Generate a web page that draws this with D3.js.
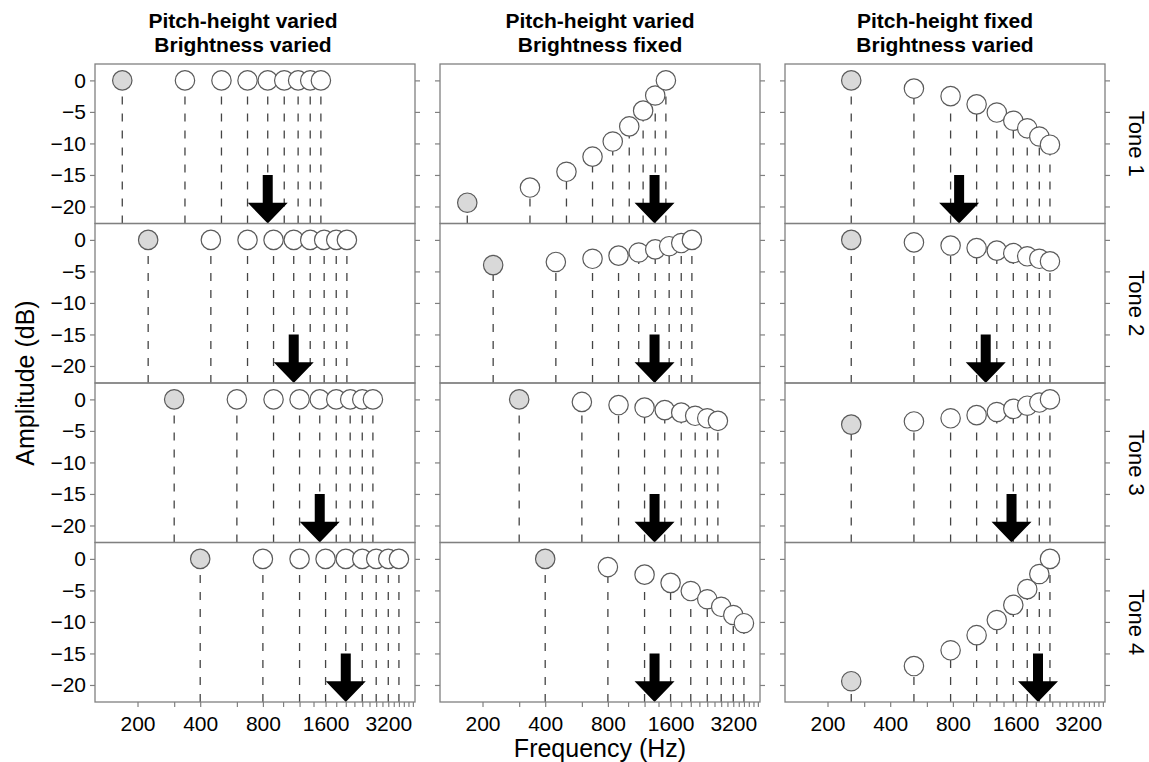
<!DOCTYPE html>
<html>
<head>
<meta charset="utf-8">
<script src="https://cdn.jsdelivr.net/npm/d3@7"></script>
<style>
body { margin: 0; background: #fff; }
svg { font-family: "Liberation Sans", Arial, Helvetica, sans-serif; }
.axis path.domain { display: none; }
.axis line { stroke: #808080; stroke-width: 1.2; }
.axis text { font-size: 21px; fill: #000; }
</style>
</head>
<body>
<svg id="chart"></svg>
<script>
// column titles and row labels
var columnTitles = [
	["Pitch-height varied", "Brightness varied"],
	["Pitch-height varied", "Brightness fixed"],
	["Pitch-height fixed", "Brightness varied"]
];
var toneLabels = ["Tone 1", "Tone 2", "Tone 3", "Tone 4"];

// harmonic frequencies (Hz) per tone
var freqVaried = [
	[169, 338, 506, 675, 844, 1013, 1181, 1350, 1519],
	[225, 450, 675, 900, 1125, 1350, 1575, 1800, 2025],
	[300, 600, 900, 1200, 1500, 1800, 2100, 2400, 2700],
	[400, 800, 1200, 1600, 2000, 2400, 2800, 3200, 3600]
];
var freqFixed = [260, 520, 780, 1040, 1300, 1560, 1820, 2080, 2340];

// amplitudes (dB) per column, per tone
var ampCol1 = [
	[0, 0, 0, 0, 0, 0, 0, 0, 0],
	[0, 0, 0, 0, 0, 0, 0, 0, 0],
	[0, 0, 0, 0, 0, 0, 0, 0, 0],
	[0, 0, 0, 0, 0, 0, 0, 0, 0]
];
var ampCol2 = [
	[-19.4, -17.0, -14.5, -12.1, -9.7, -7.3, -4.8, -2.4, 0],
	[-4.0, -3.5, -3.0, -2.5, -2.0, -1.5, -1.0, -0.5, 0],
	[0, -0.4, -0.9, -1.3, -1.7, -2.1, -2.6, -3.0, -3.4],
	[0, -1.3, -2.5, -3.8, -5.1, -6.4, -7.6, -8.9, -10.2]
];
var ampCol3 = [
	[0, -1.3, -2.5, -3.8, -5.1, -6.4, -7.6, -8.9, -10.2],
	[0, -0.4, -0.9, -1.3, -1.7, -2.1, -2.6, -3.0, -3.4],
	[-4.0, -3.5, -3.0, -2.5, -2.0, -1.5, -1.0, -0.5, 0],
	[-19.4, -17.0, -14.5, -12.1, -9.7, -7.3, -4.8, -2.4, 0]
];

// spectral centroid arrows (Hz)
var centroidCol1 = [844, 1125, 1500, 2000];
var centroidCol2 = [1340, 1340, 1340, 1340];
var centroidCol3 = [857, 1150, 1530, 2050];

var yTicks = [0, -5, -10, -15, -20];
var xTicks = [200, 300, 400, 600, 800, 1000, 1200, 1400, 1600, 1800, 2000, 2200, 2400,
	2600, 2800, 3000, 3200, 3400, 3600, 3800, 4000, 4200];
var xLabels = [200, 400, 800, 1600, 3200];

var columns = [
	{ freqs: freqVaried, amps: ampCol1, arrows: centroidCol1 },
	{ freqs: freqVaried, amps: ampCol2, arrows: centroidCol2 },
	{ freqs: [freqFixed, freqFixed, freqFixed, freqFixed], amps: ampCol3, arrows: centroidCol3 }
];

var width = 1149;
var height = 762;
var margin = { left: 95, top: 64 };
var panelW = 320;
var panelH = 159.5;
var gap = 25;
var titleShift = [-12, 0, 0];

var svg = d3.select("#chart")
	.attr("width", width)
	.attr("height", height);

var xScale = d3.scaleLog()
	.domain([125, 4300])
	.range([0, panelW]);
var yScale = d3.scaleLinear()
	.domain([-22.7, 2.6])
	.range([panelH, 0]);

columns.forEach(function (col, c) {
	var px = margin.left + c * (panelW + gap);

	svg.append("text")
		.attr("x", px + panelW / 2 + titleShift[c])
		.attr("y", 28)
		.attr("text-anchor", "middle")
		.style("font-size", "21px")
		.style("font-weight", "bold")
		.text(columnTitles[c][0]);
	svg.append("text")
		.attr("x", px + panelW / 2 + titleShift[c])
		.attr("y", 52)
		.attr("text-anchor", "middle")
		.style("font-size", "21px")
		.style("font-weight", "bold")
		.text(columnTitles[c][1]);

	for (var r = 0; r < 4; r++) {
		var py = margin.top + r * panelH;
		var g = svg.append("g")
			.attr("transform", "translate(" + px + "," + py + ")");

		var pts = col.freqs[r].map(function (f, i) {
			return { f: f, a: col.amps[r][i], i: i };
		});

		// dashed stems, drawn up from the panel bottom
		g.selectAll("line.stem")
			.data(pts)
			.enter()
			.append("line")
			.classed("stem", true)
			.attr("x1", function (d) { return xScale(d.f); })
			.attr("x2", function (d) { return xScale(d.f); })
			.attr("y1", yScale(-22.7))
			.attr("y2", function (d) { return yScale(d.a); })
			.attr("stroke", "#444")
			.attr("stroke-width", 1.3)
			.attr("stroke-dasharray", "8,9");

		// centroid arrow
		var ax = xScale(col.arrows[r]);
		var yTop = yScale(-15);
		var yBase = yScale(-19.4);
		var yTip = yScale(-22.7);
		g.append("path")
			.attr("d", "M" + (ax - 5) + "," + yTop +
				"L" + (ax + 5) + "," + yTop +
				"L" + (ax + 5) + "," + yBase +
				"L" + (ax + 20) + "," + yBase +
				"L" + ax + "," + yTip +
				"L" + (ax - 20) + "," + yBase +
				"L" + (ax - 5) + "," + yBase + "Z")
			.attr("fill", "#000");

		g.selectAll("circle")
			.data(pts)
			.enter()
			.append("circle")
			.attr("cx", function (d) { return xScale(d.f); })
			.attr("cy", function (d) { return yScale(d.a); })
			.attr("r", 9.7)
			.attr("fill", function (d) { return d.i == 0 ? "#d9d9d9" : "#fff"; })
			.attr("stroke", "#5a5a5a")
			.attr("stroke-width", 1.2);

		// y ticks on both sides
		var yLeft = d3.axisLeft(yScale)
			.tickValues(yTicks)
			.tickSize(5)
			.tickPadding(4)
			.tickFormat(c == 0 ? function (d) { return d3.format("d")(d).replace("-", "\u2212"); } : "");
		g.append("g")
			.classed("axis", true)
			.call(yLeft);
		var yRight = d3.axisRight(yScale)
			.tickValues(yTicks)
			.tickSize(5)
			.tickFormat("");
		g.append("g")
			.classed("axis", true)
			.attr("transform", "translate(" + panelW + ",0)")
			.call(yRight);

		if (r == 3) {
			var xAxis = d3.axisBottom(xScale)
				.tickValues(xTicks)
				.tickSize(5)
				.tickPadding(9)
				.tickFormat(function (d) { return xLabels.indexOf(d) >= 0 ? d : ""; });
			g.append("g")
				.classed("axis", true)
				.attr("transform", "translate(0," + panelH + ")")
				.call(xAxis);
		}

		g.append("rect")
			.attr("width", panelW)
			.attr("height", panelH)
			.attr("fill", "none")
			.attr("stroke", "#808080")
			.attr("stroke-width", 1.3);

		if (c == 2) {
			svg.append("text")
				.attr("transform", "translate(1129," + (py + panelH / 2) + ") rotate(90)")
				.attr("text-anchor", "middle")
				.style("font-size", "22px")
				.text(toneLabels[r]);
		}
	}
});

svg.append("text")
	.attr("transform", "translate(34," + (margin.top + 2 * panelH) + ") rotate(-90)")
	.attr("text-anchor", "middle")
	.style("font-size", "25px")
	.text("Amplitude (dB)");

svg.append("text")
	.attr("x", margin.left + panelW + gap + panelW / 2)
	.attr("y", 757)
	.attr("text-anchor", "middle")
	.style("font-size", "25px")
	.text("Frequency (Hz)");
</script>
</body>
</html>
